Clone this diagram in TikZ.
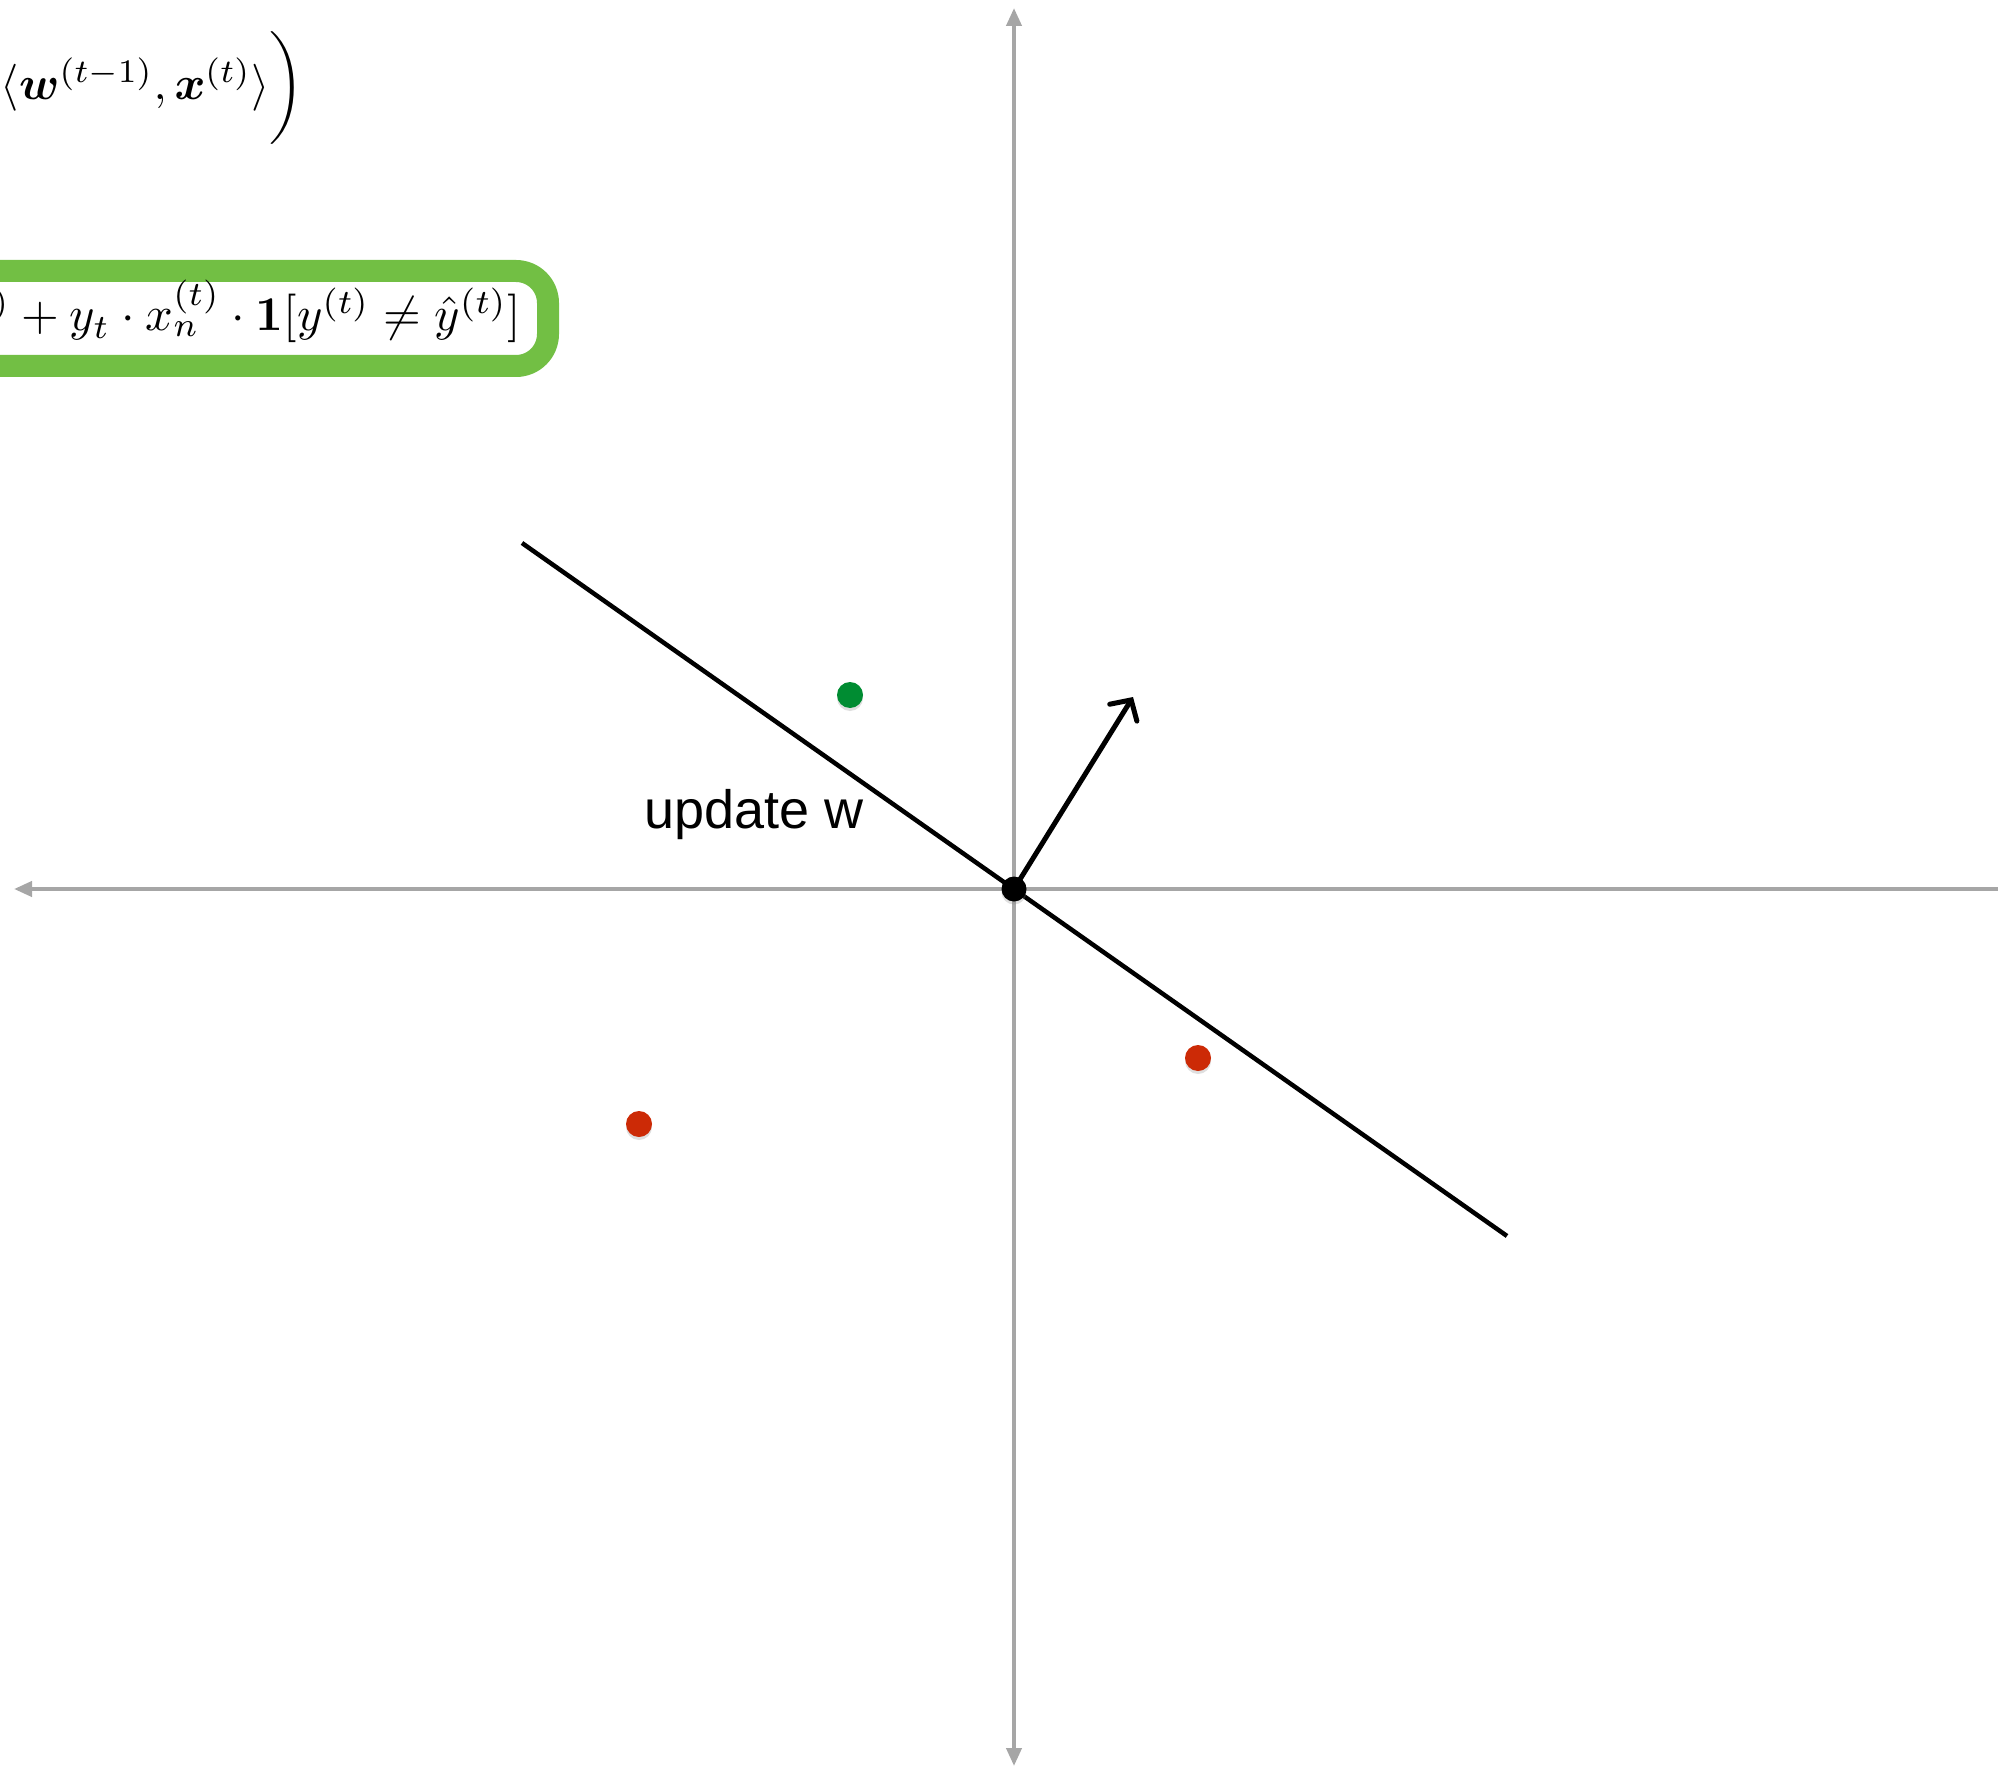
\documentclass[tikz,border=0pt]{standalone}
\usepackage{amsmath,bm}
\usepackage[no-math]{fontspec}
\newfontfamily\labelfont{Liberation Sans}
\usetikzlibrary{arrows.meta,shadows}
\definecolor{axisgray}{HTML}{A6A6A6}
\definecolor{boxgreen}{HTML}{72BF44}
\definecolor{dotgreen}{HTML}{008C32}
\definecolor{dotred}{HTML}{CC2A06}
\begin{document}
\begin{tikzpicture}[x=1pt,y=-1pt,
  axis/.style={draw=axisgray,line width=4pt},
  axtip/.style={-{Triangle[length=18pt,width=15pt]}},
  axtips/.style={{Triangle[length=18pt,width=15pt]}-{Triangle[length=18pt,width=15pt]}},
  boundary/.style={draw=black,line width=4.5pt},
  wvec/.style={draw=black,line width=5pt,line cap=round,-{Straight Barb[length=15pt,width=32pt,line cap=round]}},
  dot/.style={circle,inner sep=0pt,minimum size=26pt,draw=none,
    drop shadow={shadow xshift=0pt,shadow yshift=-3pt,opacity=0.25}},
  greenbox/.style={draw=boxgreen,line width=22pt,rounded corners=32pt,fill=white},
  eq/.style={inner sep=0pt,anchor=base west}
]
\useasboundingbox (0,0) rectangle (1998,1768);

% axes
\coordinate (O) at (1014,889);
\coordinate (xend) at (1998,889);
\coordinate (xtip) at (14,889);
\coordinate (ytop) at (1014,8);
\coordinate (ybot) at (1014,1766);
\draw[axis,axtip] (xend) -- (xtip);
\draw[axis,axtips] (ybot) -- (ytop);

% formulas
\node[eq,scale=4.7] (pred) at (0,100)
  {$\langle\bm{w}^{(t-1)},\bm{x}^{(t)}\rangle\bigg)$};
\draw[greenbox] (-60,271) rectangle (548,366);
\node[inner sep=0pt,anchor=base east,scale=4.85] (upd) at (522,331)
  {${}^{)}+y_t\cdot x_n^{(t)}\cdot\mathbf{1}[y^{(t)}\neq\hat{y}^{(t)}]$};

% decision boundary and weight vector
\coordinate (L1) at (522,543);
\coordinate (L2) at (1507,1236);
\coordinate (W) at (1133,697);
\draw[boundary] (L1) -- (L2);
\node[dot,fill=black,minimum size=25pt] (o) at (O) {};
\draw[wvec] (o.center) -- (W);

% points
\node[dot,fill=dotgreen] (g) at (850,695) {};
\node[dot,fill=dotred] (r1) at (1198,1058) {};
\node[dot,fill=dotred] (r2) at (639,1124) {};

% label
\node[inner sep=0pt,anchor=base west,font=\labelfont\fontsize{54}{62}\selectfont] (lbl) at (644,828) {update w};
\end{tikzpicture}
\end{document}
